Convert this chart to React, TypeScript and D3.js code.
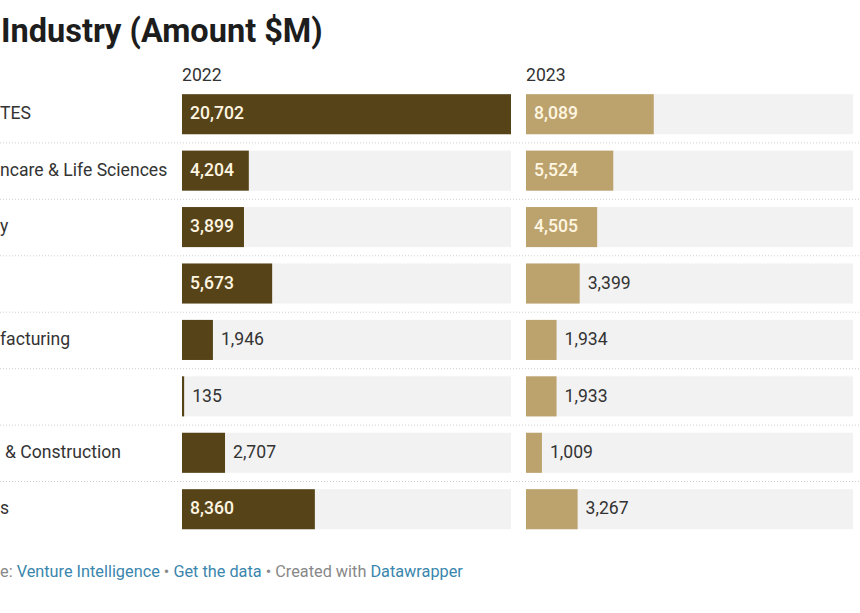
import { useEffect, useRef } from 'react';
import * as d3 from 'd3';

// visible (cropped) row labels, top to bottom
const categories = ['TES', 'ncare & Life Sciences', 'y', '', 'facturing', '', '& Construction', 's'];
const years = ['2022', '2023'];
const values2022 = [20702, 4204, 3899, 5673, 1946, 135, 2707, 8360];
const values2023 = [8089, 5524, 4505, 3399, 1934, 1933, 1009, 3267];

const W = 860;
const H = 613;
const colors = ['#574318', '#bca26c'];
const font = 'Roboto, "Noto Sans", sans-serif';

const App = () => {
  const svgRef = useRef<SVGSVGElement>(null);

  useEffect(() => {
    document.body.style.margin = '0';
    if (!svgRef.current) return;
    const svg = d3.select(svgRef.current);
    svg.selectAll('*').remove();

    const n = categories.length;
    const y = d3.scaleBand<number>()
      .domain(d3.range(n))
      .range([86, 86 + 8 * 56.43])
      .paddingInner(0.29)
      .paddingOuter(0.145);

    const max = d3.max([...values2022, ...values2023]) as number;
    const panels = [
      { x: d3.scaleLinear().domain([0, max]).range([182, 511]), values: values2022 },
      { x: d3.scaleLinear().domain([0, max]).range([526, 853]), values: values2023 },
    ];

    // title
    svg.append('text')
      .attr('x', 1)
      .attr('y', 42)
      .attr('font-family', font)
      .attr('font-size', 32.5)
      .attr('font-weight', 700)
      .attr('fill', '#1d1d1d')
      .text('Industry (Amount $M)');

    // row separators
    const gap = y.step() - y.bandwidth();
    svg.append('g')
      .selectAll('line')
      .data(d3.range(n - 1))
      .join('line')
      .attr('x1', 0)
      .attr('x2', W)
      .attr('y1', d => (y(d) as number) + y.bandwidth() + gap / 2 + 0.5)
      .attr('y2', d => (y(d) as number) + y.bandwidth() + gap / 2 + 0.5)
      .attr('stroke', '#cfcfcf')
      .attr('stroke-dasharray', '1,2');

    // row labels
    svg.append('g')
      .selectAll('text')
      .data(categories)
      .join('text')
      .attr('x', (d) => (d.startsWith('&') ? 5 : 0))
      .attr('y', (_, i) => (y(i) as number) + y.bandwidth() / 2 - 1)
      .attr('dy', '0.35em')
      .attr('font-family', font)
      .attr('font-size', 17.6)
      .attr('fill', '#333')
      .text(d => d);

    const fmt = d3.format(',');

    panels.forEach((p, pi) => {
      const g = svg.append('g');
      const [x0, x1] = p.x.range();

      g.append('text')
        .attr('x', x0)
        .attr('y', 81)
        .attr('font-family', font)
        .attr('font-size', 17.6)
        .attr('fill', '#333')
        .text(years[pi]);

      // background tracks
      g.selectAll('rect.bg')
        .data(p.values)
        .join('rect')
        .attr('class', 'bg')
        .attr('x', x0)
        .attr('y', (_, i) => y(i) as number)
        .attr('width', x1 - x0)
        .attr('height', y.bandwidth())
        .attr('fill', '#f2f2f2');

      g.selectAll('rect.bar')
        .data(p.values)
        .join('rect')
        .attr('class', 'bar')
        .attr('x', x0)
        .attr('y', (_, i) => y(i) as number)
        .attr('width', d => Math.max(2, p.x(d) - x0))
        .attr('height', y.bandwidth())
        .attr('fill', colors[pi]);

      g.selectAll('text.val')
        .data(p.values)
        .join('text')
        .attr('class', 'val')
        .each(function (d, i) {
          const w = p.x(d) - x0;
          const inside = w >= 58;
          d3.select(this)
            .attr('x', inside ? x0 + 8 : Math.max(p.x(d), x0 + 2) + 8)
            .attr('y', (y(i) as number) + y.bandwidth() / 2 - 1)
            .attr('dy', '0.35em')
            .attr('font-family', font)
            .attr('font-size', 17.6)
            .attr('font-weight', inside ? 500 : 400)
            .attr('fill', inside ? '#fff6e2' : '#333')
            .text(fmt(d));
        });
    });

    // footer
    const foot = svg.append('text')
      .attr('x', 0)
      .attr('y', 577)
      .attr('font-family', font)
      .attr('font-size', 16.3)
      .attr('fill', '#888');
    const parts: [string, string][] = [
      ['e: ', '#888'],
      ['Venture Intelligence', '#3a86ad'],
      [' • ', '#888'],
      ['Get the data', '#3a86ad'],
      [' • Created with ', '#888'],
      ['Datawrapper', '#3a86ad'],
    ];
    parts.forEach(([t, c]) => {
      foot.append('tspan').attr('fill', c).text(t);
    });
  }, []);

  return <svg ref={svgRef} width={W} height={H} style={{ display: 'block', background: '#fff' }} />;
};

export default App;
